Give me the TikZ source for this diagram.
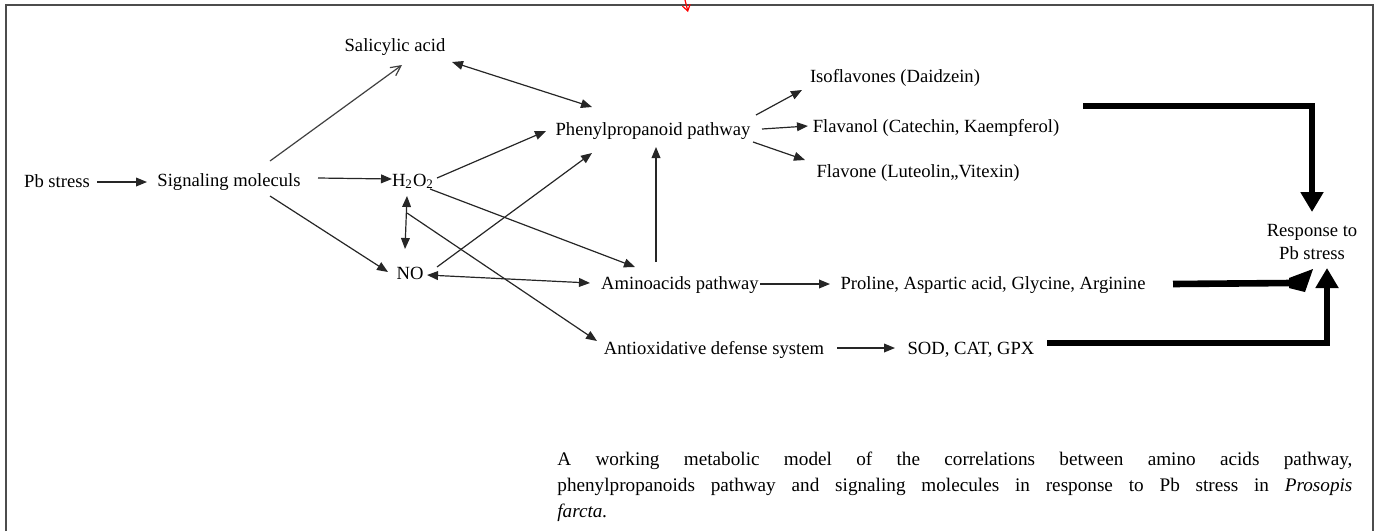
\documentclass[tikz,border=0pt]{standalone}
\usepackage{fontspec}
\setmainfont{Liberation Serif}
\usetikzlibrary{arrows.meta}
\begin{document}
\begin{tikzpicture}[x=0.5pt,y=-0.5pt,
  lbl/.style={inner sep=0pt, font=\fontsize{9.3}{11.5}\selectfont, text height=0.7em, text depth=0.2em},
  conn/.style={line width=0.6pt, draw=black!85, -{Triangle[length=5.5pt,width=4.4pt]}},
  biconn/.style={line width=0.6pt, draw=black!85, {Triangle[length=5.5pt,width=4.4pt]}-{Triangle[length=5.5pt,width=4.4pt]}},
  openconn/.style={line width=0.6pt, draw=black!75, -{Straight Barb[length=5pt,width=5pt]}},
  heavy/.style={line width=3pt, draw=black, line join=miter, -{Triangle[length=10pt,width=11pt]}},
  frameline/.style={line width=1pt, draw=black!70}
]
\useasboundingbox (0,0) rectangle (1380,531);
\draw[frameline] (6,531) -- (6,5) -- (1373,5) -- (1373,531);
\coordinate (redtop) at (685,0);
\coordinate (redtip) at (688,12);
\draw[red, line width=0.6pt, -{Straight Barb[length=3pt,width=4pt]}] (redtop) -- (redtip);

\node[lbl] (pb) at (57,182) {Pb stress};
\node[lbl] (sig) at (229,181) {Signaling moleculs};
\node[lbl] (sal) at (395,46) {Salicylic acid};
\node[lbl] (h2o2) at (413,181) {H\textsubscript{2}O\textsubscript{2}};
\node[lbl] (no) at (410,274) {NO};
\node[lbl] (phe) at (653,130) {Phenylpropanoid pathway};
\node[lbl] (iso) at (895,77) {Isoflavones (Daidzein)};
\node[lbl] (flav) at (936,127) {Flavanol (Catechin, Kaempferol)};
\node[lbl] (flavone) at (918,172) {Flavone (Luteolin,,Vitexin)};
\node[lbl] (amino) at (680,284) {Aminoacids pathway};
\node[lbl] (anti) at (714,349) {Antioxidative defense system};
\node[lbl] (prol) at (993,284) {Proline, Aspartic acid, Glycine, Arginine};
\node[lbl] (sod) at (971,349) {SOD, CAT, GPX};
\node[inner sep=0pt, font=\fontsize{9.3}{11.5}\selectfont, align=center] (resp) at (1312,242) {Response to\\Pb stress};

\node[anchor=north west, inner sep=0pt, text width=397.5pt, align=justify,
      font=\fontsize{9.6}{13}\selectfont] (cap) at (557,452)
  {A working metabolic model of the correlations between amino acids pathway,\linebreak
   phenylpropanoids pathway and signaling molecules in response to Pb stress in \textit{Prosopis}\linebreak
   \textit{farcta.}};

% thin connectors
\draw[conn] ([shift={(40,0)}]pb.center) -- ([shift={(-82,1)}]sig.center);
\draw[openconn] ([shift={(41,-20)}]sig.center) -- ([shift={(7,19)}]sal.center);
\draw[conn] ([shift={(89,-3)}]sig.center) -- ([shift={(-21,-2)}]h2o2.center);
\draw[conn] ([shift={(41,15)}]sig.center) -- ([shift={(-22,-2)}]no.center);
\draw[biconn] ([shift={(-6,15)}]h2o2.center) -- ([shift={(-5,-25)}]no.center);
\coordinate (branch) at ([shift={(-6,32)}]h2o2.center);
\draw[conn] (branch) -- ([shift={(-117,-8)}]anti.center);
\draw[biconn] ([shift={(57,16)}]sal.center) -- ([shift={(-61,-23)}]phe.center);
\draw[conn] ([shift={(24,-3)}]h2o2.center) -- ([shift={(-107,1)}]phe.center);
\draw[conn] ([shift={(17,8)}]h2o2.center) -- ([shift={(-45,-17)}]amino.center);
\draw[conn] ([shift={(27,-7)}]no.center) -- ([shift={(-61,23)}]phe.center);
\draw[biconn] ([shift={(17,1)}]no.center) -- ([shift={(-90,-1)}]amino.center);
\draw[conn] ([shift={(-24,-22)}]amino.center) -- ([shift={(3,17)}]phe.center);
\draw[conn] ([shift={(103,-15)}]phe.center) -- ([shift={(-93,13)}]iso.center);
\draw[conn] ([shift={(109,-1)}]phe.center) -- ([shift={(-128,-1)}]flav.center);
\draw[conn] ([shift={(100,12)}]phe.center) -- ([shift={(-113,-12)}]flavone.center);
\draw[conn] ([shift={(80,0)}]amino.center) -- ([shift={(-163,0)}]prol.center);
\draw[conn] ([shift={(123,-1)}]anti.center) -- ([shift={(-76,-1)}]sod.center);

% heavy connectors
\draw[heavy] ([shift={(147,-21)}]flav.center) -| ([shift={(0,-30)}]resp.center);
\draw[line width=3.3pt] ([shift={(180,0)}]prol.center) -- ([shift={(-21,41)}]resp.center);
\fill ([shift={(-23,36)}]resp.center) -- ([shift={(1,27)}]resp.center)
      -- ([shift={(-7,50)}]resp.center) -- ([shift={(-23,46)}]resp.center) -- cycle;
\draw[heavy] ([shift={(76,-6)}]sod.center) -| ([shift={(15,26)}]resp.center);
\end{tikzpicture}
\end{document}
